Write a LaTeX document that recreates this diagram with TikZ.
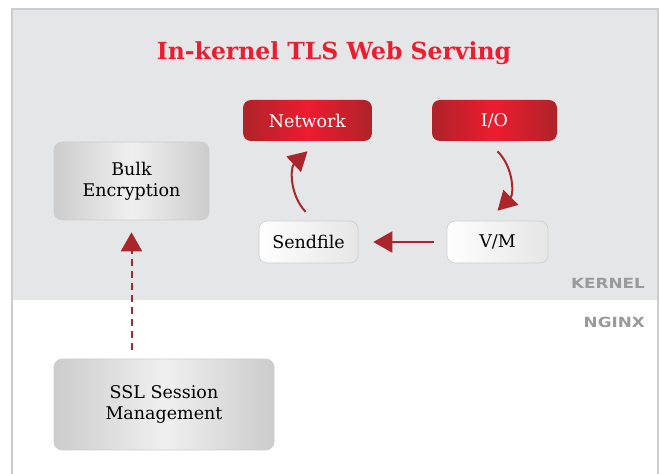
\documentclass[tikz,border=0pt]{standalone}
\usepackage{fontspec}
\setmainfont{DejaVu Serif}
\newfontfamily\labfont{DejaVu Sans}
\usetikzlibrary{arrows.meta}
\definecolor{panelgray}{HTML}{E5E6E8}
\definecolor{framegray}{HTML}{CDCDCD}
\definecolor{brightred}{HTML}{ED1C2E}
\definecolor{darkred}{HTML}{AE2329}
\definecolor{arrowred}{HTML}{AB262B}
\definecolor{labgray}{HTML}{9A9A9A}
\tikzset{
  box/.style={rounded corners=8pt, draw=framegray, line width=0.6pt, align=center, inner sep=0pt, font=\fontsize{17.5}{21}\selectfont},
  redbox/.style={box, draw=none, left color=darkred, right color=darkred, middle color=brightred, text=white},
  graybox/.style={box, left color=black!20, right color=black!20, middle color=black!6, text=black},
  whitebox/.style={box, left color=white, right color=black!10, text=black},
  flow/.style={draw=arrowred, line width=2pt, -{Triangle[length=19pt,width=21pt]}},
  layerlabel/.style={anchor=east, text=labgray, font=\labfont\bfseries\fontsize{14}{17}\selectfont, inner sep=0pt}
}
\begin{document}
\begin{tikzpicture}[x=1pt,y=1pt]
\useasboundingbox (0,0) rectangle (659,474);
% panels
\fill[panelgray] (12,174) rectangle (658,465);
\draw[framegray, line width=1.2pt] (12,0) -- (12,465) -- (658,465) -- (658,0);
% title
\node[text=brightred, font=\bfseries\fontsize{23.5}{28}\selectfont] (title) at (334,421) {In-kernel TLS Web Serving};
% nodes
\node[redbox, minimum width=129pt, minimum height=41pt] (net) at (307.5,353.5) {Network};
\node[redbox, minimum width=125pt, minimum height=41pt] (io) at (494.5,353.5) {I/O};
\node[graybox, minimum width=155pt, minimum height=78pt] (bulk) at (131.5,293) {Bulk\\Encryption};
\node[whitebox, minimum width=99pt, minimum height=42pt] (send) at (308.5,232) {Sendfile};
\node[whitebox, minimum width=101pt, minimum height=42pt] (vm) at (497.5,232) {V/M};
\node[graybox, minimum width=220pt, minimum height=91pt] (ssl) at (164,69.5) {SSL Session\\Management};
% layer labels
\node[layerlabel] (kernel) at (645,191) {\scalebox{1.2}[1]{KERNEL}};
\node[layerlabel] (nginx) at (645,152) {\scalebox{1.2}[1]{NGINX}};
% connectors
\draw[flow] ([xshift=-3pt,yshift=9pt]send.north) to[bend left=45] ([yshift=-10pt]net.south);
\draw[flow] ([xshift=3pt,yshift=-10pt]io.south) to[bend left=45] ([yshift=10pt]vm.north);
\draw[flow] ([xshift=-13pt]vm.west) -- ([xshift=15pt]send.east);
\draw[flow, dash pattern=on 7pt off 5pt] ([yshift=9pt]ssl.north -| bulk.south) -- ([yshift=-12pt]bulk.south);
\end{tikzpicture}
\end{document}
